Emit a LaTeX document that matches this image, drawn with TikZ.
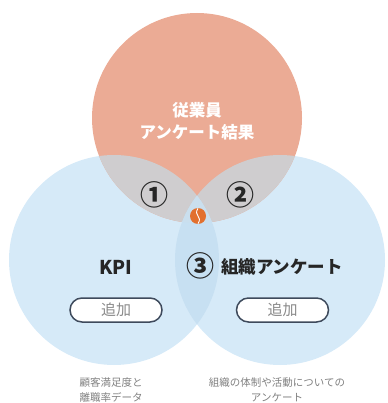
\documentclass[tikz,border=0pt]{standalone}
\usepackage{fontspec}
\setmainfont{Noto Sans CJK JP}
\definecolor{salmon}{HTML}{EBAB95}
\definecolor{skyb}{HTML}{D6EAF8}
\definecolor{lensb}{HTML}{C7E0F2}
\definecolor{triple}{HTML}{CADFEE}
\definecolor{grayov}{HTML}{CFCDCF}
\definecolor{dotor}{HTML}{E2702E}
\definecolor{btnline}{HTML}{3E4A5C}
\definecolor{btntext}{HTML}{8A8A8A}
\definecolor{captext}{HTML}{808080}
\definecolor{darktext}{HTML}{262626}
\tikzset{
  btn/.style={draw=btnline, line width=1.5pt, fill=white, rounded corners=12pt,
    minimum width=92pt, minimum height=24pt, inner sep=0pt,
    text=btntext, font=\fontsize{15}{16}\selectfont},
  captxt/.style={text=captext, font=\fontsize{10.5}{15}\selectfont, align=center, inner sep=0pt},
  numtxt/.style={text=darktext, font=\bfseries\fontsize{28}{28}\selectfont, inner sep=0pt},
  ttltxt/.style={text=darktext, font=\bfseries\fontsize{17.5}{20}\selectfont, inner sep=0pt}
}
\begin{document}
\begin{tikzpicture}[x=1pt,y=-1pt]
\useasboundingbox (0,0) rectangle (387,403);
\def\R{105}
\coordinate (cl) at (114,260);
\coordinate (cr) at (280,260);
\coordinate (ct) at (197,118);
% base circles
\fill[skyb] (cl) circle (\R);
\fill[skyb] (cr) circle (\R);
\fill[salmon] (ct) circle (\R);
% pairwise overlaps
\begin{scope}
  \clip (ct) circle (\R);
  \fill[grayov] (cl) circle (\R);
  \fill[grayov] (cr) circle (\R);
\end{scope}
\begin{scope}
  \clip (cl) circle (\R);
  \fill[lensb] (cr) circle (\R);
\end{scope}
\begin{scope}
  \clip (cl) circle (\R);
  \clip (cr) circle (\R);
  \fill[triple] (ct) circle (\R);
\end{scope}
% top label
\node[text=white, font=\bfseries\fontsize{16.5}{22}\selectfont, align=center, inner sep=0pt] (top) at (197,121) {従業員\\アンケート結果};
% numbers
\node[numtxt] (n1) at (154,195) {①};
\node[numtxt] (n2) at (240,195) {②};
\node[numtxt] (n3) at (200,266) {③};
% titles
\node[ttltxt, font=\bfseries\fontsize{19}{20}\selectfont] (kpi) at (116,267) {KPI};
\node[ttltxt] (org) at (282,267) {組織アンケート};
% buttons
\node[btn] (b1) at (116,310) {追加};
\node[btn] (b2) at (282.5,310) {追加};
% orange dot
\node[circle, fill=dotor, minimum size=16pt, inner sep=0pt] (dot) at (198,216) {};
\draw[white, line width=0.9pt] ([yshift=-0.5pt]dot.north) .. controls ([xshift=-5pt]dot.center) and ([xshift=5pt]dot.center) .. ([yshift=0.5pt]dot.south);
% captions
\node[captxt] (c1) at (111,390) {顧客満足度と\\離職率データ};
\node[captxt] (c2) at (277,390) {組織の体制や活動についての\\アンケート};
\end{tikzpicture}
\end{document}
